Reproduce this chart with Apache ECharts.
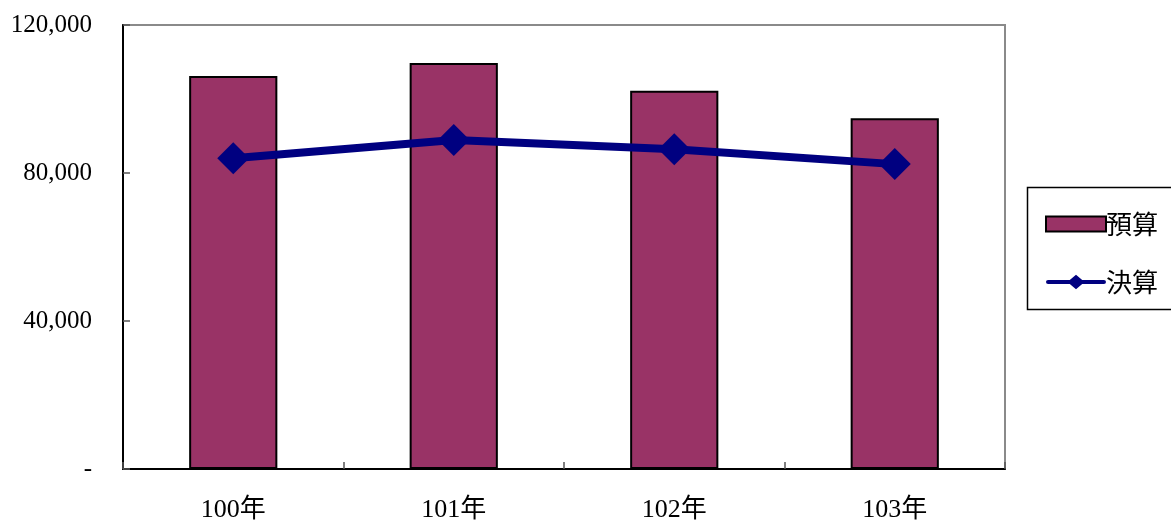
<!DOCTYPE html>
<html><head><meta charset="utf-8">
<script src="https://cdn.jsdelivr.net/npm/echarts@6/dist/echarts.min.js"></script>
<style>html,body{margin:0;padding:0;background:#fff}#c{width:1171px;height:523px}</style>
</head><body><div id="c"></div>
<script>
const categories = ['100年','101年','102年','103年'];
const budget = [106200, 109700, 102200, 94800];
const actual = [84000, 88900, 86400, 82400];
const yTicks = [0, 40000, 80000, 120000];

const chart = echarts.init(document.getElementById('c'), null, {renderer:'canvas'});
const serif = '"Liberation Serif","Noto Sans CJK TC",serif';
const lineIcon = 'path://M3,5 L24,5 L30,0 L36,5 L57,5 A2,2 0 0 1 57,9 L36,9 L30,14 L24,9 L3,9 A2,2 0 0 1 3,5 Z';
chart.setOption({
  animation:false,
  backgroundColor:'#fff',
  grid:{left:123,right:166,top:25,bottom:54,show:true,borderColor:'#8a8a8a',borderWidth:2,backgroundColor:'transparent'},
  legend:{
    orient:'vertical', left:1040, top:206, itemGap:32, itemWidth:60, itemHeight:15,
    textStyle:{fontFamily:'"Noto Sans CJK TC",sans-serif',fontSize:26,color:'#000',padding:[0,0,0,-5]},
    data:[{name:'預算',icon:'rect'},{name:'決算',icon:lineIcon,itemStyle:{color:'#000080',borderWidth:0}}]
  },
  graphic:[{type:'rect',shape:{x:1027.5,y:187.5,width:150,height:122},style:{fill:'none',stroke:'#000',lineWidth:1.5},z:-1}],
  xAxis:{
    type:'category', data:categories,
    axisLine:{lineStyle:{color:'#000',width:2}},
    axisTick:{show:true,inside:true,length:7,alignWithLabel:false,lineStyle:{color:'#555',width:1.5}},
    axisLabel:{fontFamily:serif,fontSize:26,color:'#000',margin:28}
  },
  yAxis:{
    type:'value', min:0, max:120000, interval:40000,
    splitLine:{show:false},
    axisLine:{show:true,lineStyle:{color:'#000',width:2}},
    axisTick:{show:true,inside:true,length:7,lineStyle:{color:'#555',width:1.5}},
    axisLabel:{fontFamily:serif,fontSize:25,color:'#000',margin:31,
      formatter:v=> v===0 ? '-' : v.toLocaleString('en-US')}
  },
  series:[
    {name:'預算',type:'bar',data:budget,barWidth:'40%',
      itemStyle:{color:'#993366',borderColor:'#000',borderWidth:2}},
    {name:'決算',type:'line',data:actual,symbol:'diamond',symbolSize:32,
      lineStyle:{color:'#000080',width:8},itemStyle:{color:'#000080'},z:5}
  ]
});
</script></body></html>
